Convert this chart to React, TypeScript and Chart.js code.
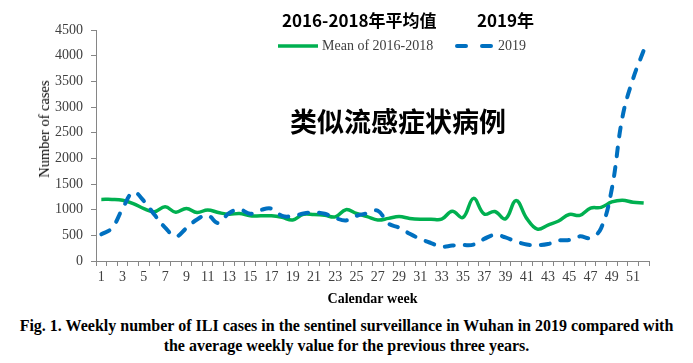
import React, { useEffect, useRef } from 'react';
import { Chart, registerables } from 'chart.js';

Chart.register(...registerables);

const weeks = ['1', '2', '3', '4', '5', '6', '7', '8', '9', '10', '11', '12', '13', '14', '15', '16', '17', '18', '19', '20', '21', '22', '23', '24', '25', '26', '27', '28', '29', '30', '31', '32', '33', '34', '35', '36', '37', '38', '39', '40', '41', '42', '43', '44', '45', '46', '47', '48', '49', '50', '51', '52'];
const shownWeekLabels = ['1', '3', '5', '7', '9', '11', '13', '15', '17', '19', '21', '23', '25', '27', '29', '31', '33', '35', '37', '39', '41', '43', '45', '47', '49', '51'];

const mean2016to2018 = [1200, 1200, 1185, 1120, 1020, 960, 1055, 950, 1025, 945, 995, 945, 910, 925, 880, 880, 880, 850, 800, 910, 905, 890, 860, 1000, 925, 865, 800, 830, 865, 830, 815, 815, 815, 970, 845, 1220, 915, 965, 820, 1180, 830, 620, 700, 780, 905, 890, 1030, 1045, 1150, 1185, 1145, 1130];
const cases2019 = [520, 640, 1020, 1340, 1170, 900, 650, 480, 640, 810, 890, 740, 930, 1005, 920, 995, 1020, 880, 875, 925, 945, 920, 840, 790, 880, 930, 980, 730, 650, 530, 430, 350, 280, 300, 310, 320, 430, 510, 460, 380, 320, 310, 330, 400, 410, 480, 450, 640, 1400, 2800, 3550, 4100];

const yTickValues = [0, 500, 1000, 1500, 2000, 2500, 3000, 3500, 4000, 4500];

const seriesNames = ['Mean of 2016-2018', '2019'];
const headerCn = ['2016-2018年平均值', '2019年'];
const bigTitle = '类似流感症状病例';
const yTitle = 'Number of cases';
const xTitle = 'Calendar week';
const captionLines = [
  'Fig. 1. Weekly number of ILI cases in the sentinel surveillance in Wuhan in 2019 compared with',
  'the average weekly value for the previous three years.',
];

const GREEN = '#00B050';
const BLUE = '#0070C0';
const AXIS = '#868686';
const TICK_TEXT = '#404040';
const SERIF = '"Liberation Serif", "Times New Roman", serif';
const CJK = '"Noto Sans CJK SC", "Noto Sans", sans-serif';

export default function App() {
  const ref = useRef<HTMLCanvasElement>(null);

  useEffect(() => {
    const chart = new Chart(ref.current as HTMLCanvasElement, {
      type: 'line',
      data: {
        labels: weeks,
        datasets: [
          {
            label: seriesNames[0],
            data: mean2016to2018,
            borderColor: GREEN,
            backgroundColor: GREEN,
            borderWidth: 3.5,
            pointRadius: 0,
            tension: 0.4,
            order: 1,
          },
          {
            label: seriesNames[1],
            data: cases2019,
            borderColor: BLUE,
            backgroundColor: BLUE,
            borderWidth: 4,
            borderDash: [9, 11],
            borderCapStyle: 'round',
            pointRadius: 0,
            tension: 0.4,
            order: 0,
          },
        ],
      },
      options: {
        responsive: false,
        maintainAspectRatio: false,
        animation: false,
        layout: { padding: { top: 30, right: 44, left: 0, bottom: 0 } },
        plugins: {
          legend: { display: false },
          tooltip: { enabled: false },
          title: { display: false },
        },
        scales: {
          x: {
            type: 'category',
            offset: true,
            grid: {
              offset: true,
              drawOnChartArea: false,
              drawTicks: true,
              tickLength: 5,
              color: AXIS,
            },
            border: { color: AXIS, width: 1 },
            ticks: {
              autoSkip: false,
              maxRotation: 0,
              minRotation: 0,
              padding: 3,
              color: TICK_TEXT,
              font: { family: SERIF, size: 14 },
              callback: (_v: any, i: number) => (shownWeekLabels.includes(weeks[i]) ? weeks[i] : ''),
            },
            title: {
              display: true,
              text: xTitle,
              color: '#000000',
              font: { family: SERIF, size: 14, weight: 'bold' },
              padding: { top: 0, bottom: 2 },
            },
            afterFit: (s: any) => {
              s.height = 49;
            },
          },
          y: {
            min: 0,
            max: 4500,
            afterBuildTicks: (s: any) => {
              s.ticks = yTickValues.map((v) => ({ value: v }));
            },
            grid: {
              drawOnChartArea: false,
              drawTicks: true,
              tickLength: 5,
              color: AXIS,
            },
            border: { color: AXIS, width: 1 },
            ticks: {
              padding: 8,
              color: TICK_TEXT,
              font: { family: SERIF, size: 14 },
              callback: (v: any) => String(v),
            },
            afterFit: (s: any) => {
              s.width = 96;
            },
          },
        },
      } as any,
    });
    return () => chart.destroy();
  }, []);

  const abs = (style: React.CSSProperties): React.CSSProperties => ({ position: 'absolute', whiteSpace: 'nowrap', ...style });

  return (
    <div style={{ position: 'absolute', left: 0, top: 0, width: 693, height: 363, background: '#ffffff', overflow: 'hidden' }}>
      <canvas ref={ref} width={693} height={310} style={{ position: 'absolute', left: 0, top: 0, width: 693, height: 310 }} />

      {/* Chinese header labels */}
      <div style={abs({ left: 282, top: 9, fontFamily: CJK, fontWeight: 700, fontSize: 17, lineHeight: '22px', color: '#000' })}>{headerCn[0]}</div>
      <div style={abs({ left: 477, top: 9, fontFamily: CJK, fontWeight: 700, fontSize: 17, lineHeight: '22px', color: '#000' })}>{headerCn[1]}</div>

      {/* Legend */}
      <svg style={{ position: 'absolute', left: 0, top: 0 }} width={693} height={60}>
        <line x1={278} y1={46} x2={318} y2={46} stroke={GREEN} strokeWidth={3.5} />
        <line x1={457} y1={46} x2={493} y2={46} stroke={BLUE} strokeWidth={4} strokeDasharray="9 16" strokeLinecap="round" />
      </svg>
      <div style={abs({ left: 322, top: 37, fontFamily: SERIF, fontSize: 14, lineHeight: '18px', color: TICK_TEXT })}>{seriesNames[0]}</div>
      <div style={abs({ left: 498, top: 37, fontFamily: SERIF, fontSize: 14, lineHeight: '18px', color: TICK_TEXT })}>{seriesNames[1]}</div>

      {/* Big Chinese title */}
      <div style={abs({ left: 290, top: 104, fontFamily: CJK, fontWeight: 700, fontSize: 27, lineHeight: '34px', color: '#000' })}>{bigTitle}</div>

      {/* Y axis title */}
      <div
        style={abs({
          left: 44,
          top: 129,
          transform: 'translate(-50%, -50%) rotate(-90deg)',
          fontFamily: SERIF,
          fontSize: 14.5,
          lineHeight: '16px',
          color: '#000',
        })}
      >
        {yTitle}
      </div>

      {/* Caption */}
      <div
        style={{
          position: 'absolute',
          left: 0,
          top: 316,
          width: 693,
          textAlign: 'center',
          fontFamily: SERIF,
          fontWeight: 700,
          fontSize: 16,
          lineHeight: '20px',
          color: '#000',
        }}
      >
        {captionLines[0]}
        <br />
        {captionLines[1]}
      </div>
    </div>
  );
}
